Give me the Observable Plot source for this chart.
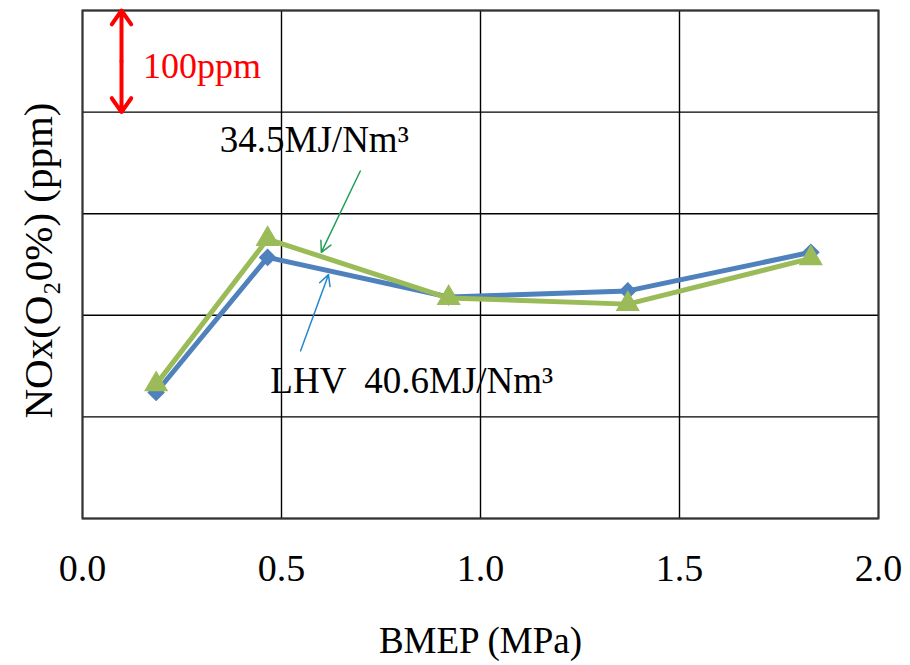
<!DOCTYPE html>
<html>
<head>
<meta charset="utf-8">
<script src="https://cdn.jsdelivr.net/npm/d3@7"></script>
<script src="https://cdn.jsdelivr.net/npm/@observablehq/plot@0.6"></script>
<style>
  html, body { margin: 0; padding: 0; background: #fff; }
  #chart svg { display: block; }
</style>
</head>
<body>
<div id="chart"></div>
<script>
// BMEP operating points (MPa)
const bmep = [0.185, 0.465, 0.92, 1.37, 1.83];
// NOx corrected to O2 0% (ppm), per gas heating value
const noxLHV406 = [124, 257, 218, 224, 262];
const noxLHV345 = [132, 275, 217, 211, 256];

const xTicks = [0, 0.5, 1.0, 1.5, 2.0];
const yGrid = [0, 100, 200, 300, 400, 500];

const labelLHV406 = "LHV  40.6MJ/Nm³";
const labelLHV345 = "34.5MJ/Nm³";
const scaleLabel = "100ppm";
const xLabel = "BMEP (MPa)";
const yLabel = "NOx(O₂0%) (ppm)";

const BLUE = "#4f81bd";
const GREEN = "#9bbb59";
const FONT = "'Liberation Serif', 'DejaVu Serif', serif";

const rows = (ys) => bmep.map((x, i) => ({x, y: ys[i]}));
const blue = rows(noxLHV406);
const green = rows(noxLHV345);

const chart = Plot.plot({
  width: 910,
  height: 665,
  marginLeft: 82,
  marginRight: 32,
  marginTop: 10,
  marginBottom: 147,
  x: {domain: [0, 2], axis: null},
  y: {domain: [0, 500], axis: null},
  style: {fontFamily: FONT, background: "#fff"},
  marks: [
    // grid
    Plot.ruleY(yGrid, {y: d => d, stroke: "#000", strokeWidth: 1.4}),
    Plot.ruleX(xTicks, {x: d => d, stroke: "#000", strokeWidth: 1.4}),
    Plot.frame({stroke: "#333", strokeWidth: 2}),

    // series
    Plot.line(blue, {x: "x", y: "y", stroke: BLUE, strokeWidth: 5}),
    Plot.dot(blue, {x: "x", y: "y", symbol: "diamond2", r: 7, fill: BLUE, stroke: BLUE}),
    Plot.line(green, {x: "x", y: "y", stroke: GREEN, strokeWidth: 5}),
    Plot.dot(green, {x: "x", y: "y", symbol: "triangle", r: 8, fill: GREEN, stroke: GREEN}),

    // 100 ppm scale marker
    Plot.arrow([{y1: 450, y2: 500}, {y1: 450, y2: 400}], {
      x1: () => 0.098, x2: () => 0.098, y1: "y1", y2: "y2",
      stroke: "#ff0000", strokeWidth: 4, headLength: 8, headAngle: 70
    }),
    Plot.text([scaleLabel], {
      x: () => 0.152, y: () => 445, text: d => d, textAnchor: "start",
      fill: "#ff0000", fontSize: 36, fontFamily: FONT
    }),

    // series call-outs
    Plot.text([labelLHV345], {
      x: () => 0.345, y: () => 372, text: d => d, textAnchor: "start",
      fill: "#000", fontSize: 37, fontFamily: FONT
    }),
    Plot.arrow([0], {
      x1: () => 0.698, y1: () => 342, x2: () => 0.600, y2: () => 262,
      stroke: "#22a05a", strokeWidth: 1.5, headLength: 12, headAngle: 55
    }),
    Plot.text([labelLHV406], {
      x: () => 0.472, y: () => 135, text: d => d, textAnchor: "start",
      fill: "#000", fontSize: 37, fontFamily: FONT
    }),
    Plot.arrow([0], {
      x1: () => 0.548, y1: () => 165, x2: () => 0.618, y2: () => 240,
      stroke: "#2288cc", strokeWidth: 1.5, headLength: 12, headAngle: 55
    }),

    // axis tick labels and titles
    Plot.text(xTicks, {
      x: d => d, text: d => d.toFixed(1), frameAnchor: "bottom", dy: 62,
      textAnchor: "middle", fill: "#000", fontSize: 38, fontFamily: FONT
    }),
    Plot.text([xLabel], {
      text: d => d, frameAnchor: "bottom", dy: 134,
      textAnchor: "middle", fill: "#000", fontSize: 37, fontFamily: FONT
    }),
    Plot.text([yLabel], {
      text: d => d, frameAnchor: "left", dx: -44, dy: -4, rotate: -90,
      textAnchor: "middle", fill: "#000", fontSize: 41, fontFamily: FONT
    })
  ]
});

document.getElementById("chart").append(chart);
</script>
</body>
</html>
